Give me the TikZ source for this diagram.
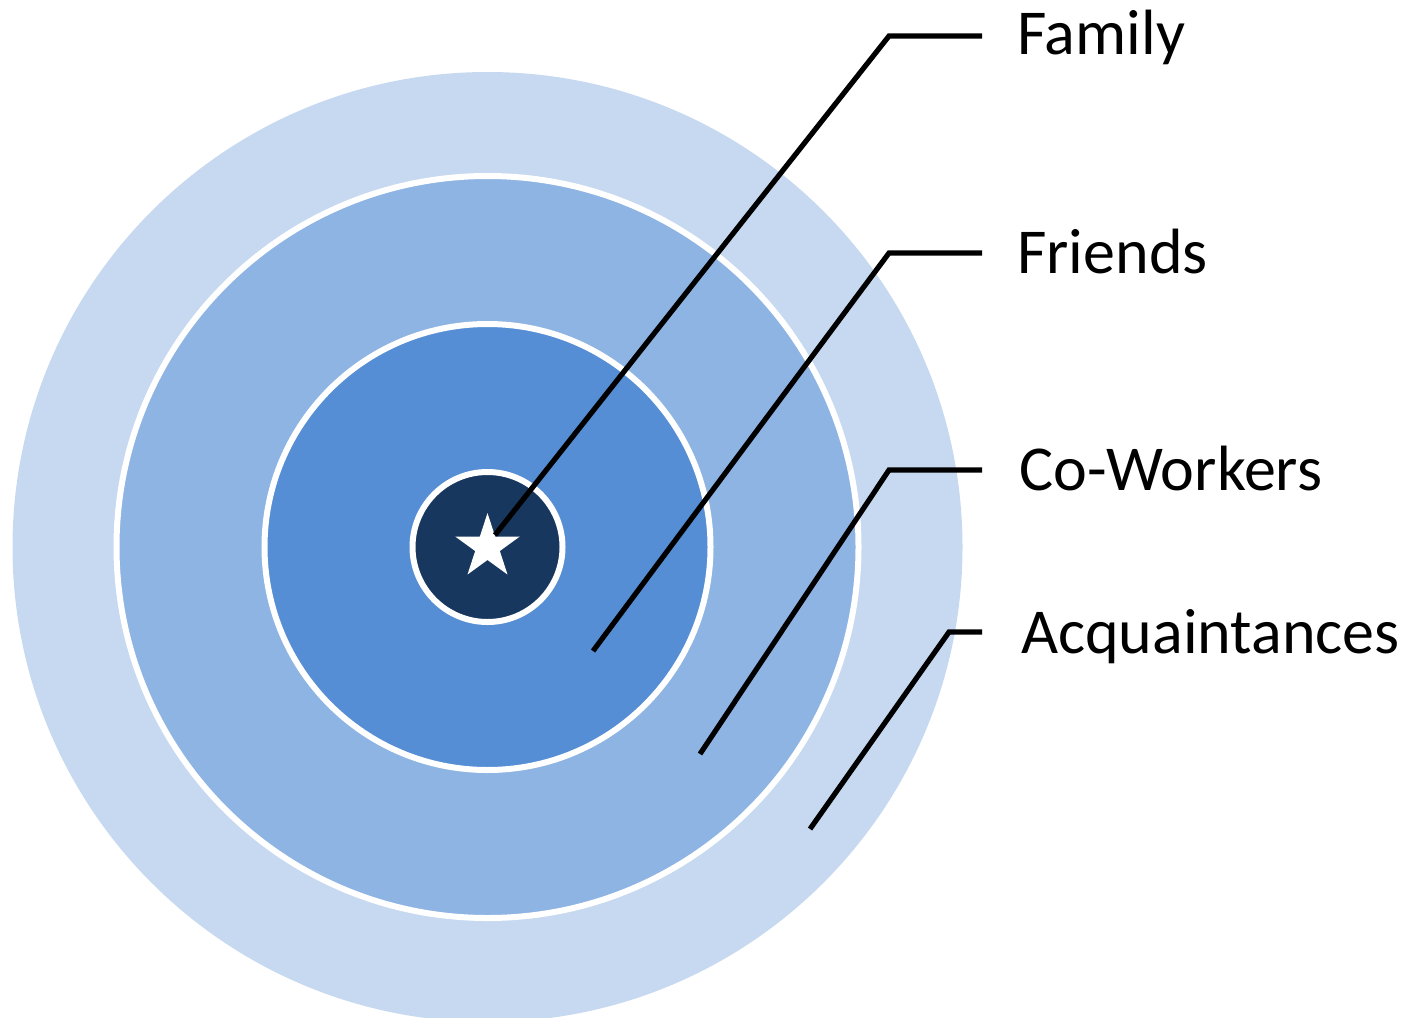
\documentclass[tikz,border=0pt]{standalone}
\usepackage{fontspec}
\setmainfont{Carlito}
\usetikzlibrary{shapes.geometric}

\definecolor{ringA}{HTML}{C6D9F0}
\definecolor{ringB}{HTML}{8EB4E3}
\definecolor{ringC}{HTML}{558ED5}
\definecolor{core}{HTML}{17375E}

\tikzset{
  ring/.style={circle, inner sep=0pt, outer sep=0pt, minimum size=#1},
  edge/.style={draw=white, line width=6pt},
  leader/.style={draw=black, line width=5.2pt, line join=miter},
  tag/.style={anchor=base west, inner sep=0pt, font=\fontsize{64}{70}\selectfont},
}

\begin{document}
\begin{tikzpicture}[x=1pt, y=-1pt]
  \clip (0,0) rectangle (1404,1017);
  \useasboundingbox (0,0) rectangle (1404,1017);

  % concentric rings
  \node[ring=950pt, fill=ringA] (acq) at (487.5,547) {};
  \node[ring=742pt, fill=ringB, edge] (cow) at (487.5,547) {};
  \node[ring=446pt, fill=ringC, edge] (fri) at (487.5,547) {};
  \node[ring=150pt, fill=core, edge] (fam) at (487.5,547) {};

  % star in the centre
  \node[star, star points=5, star point ratio=2.618, fill=white,
        inner sep=0pt, outer sep=0pt, minimum size=68pt] (me) at (487.5,547) {};

  % leader end points and elbows
  \coordinate (famTip) at (495,535);
  \coordinate (famBend) at (889,36);
  \coordinate (famEnd) at (982,36);
  \coordinate (friTip) at (593,651);
  \coordinate (friBend) at (889,253);
  \coordinate (friEnd) at (982,253);
  \coordinate (cowTip) at (700,754);
  \coordinate (cowBend) at (889,470);
  \coordinate (cowEnd) at (982,470);
  \coordinate (acqTip) at (810,829);
  \coordinate (acqBend) at (949,632);
  \coordinate (acqEnd) at (982,632);

  % labels
  \node[tag] (famLabel) at (1017,54) {Family};
  \node[tag] (friLabel) at (1017,273) {Friends};
  \node[tag] (cowLabel) at (1019,490) {Co-Workers};
  \node[tag] (acqLabel) at (1021,653) {Acquaintances};

  % leaders
  \draw[leader] (famTip) -- (famBend) -- (famEnd);
  \draw[leader] (friTip) -- (friBend) -- (friEnd);
  \draw[leader] (cowTip) -- (cowBend) -- (cowEnd);
  \draw[leader] (acqTip) -- (acqBend) -- (acqEnd);
\end{tikzpicture}
\end{document}
